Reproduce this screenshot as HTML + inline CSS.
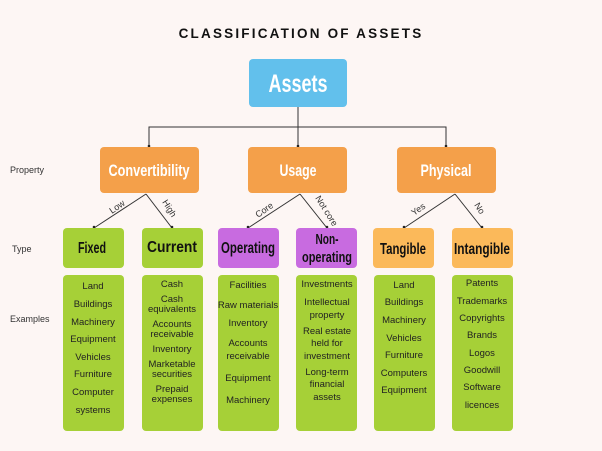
<!DOCTYPE html>
<html><head><meta charset="utf-8"><style>
html,body{margin:0;padding:0;background:#fdf6f4;}
svg{display:block;}
.c{font-family:"Liberation Sans",sans-serif;font-weight:bold;}
.e{font-family:"Liberation Sans",sans-serif;font-size:9.5px;fill:#222;text-anchor:middle;}
.l{font-family:"Liberation Sans",sans-serif;font-size:9px;fill:#333;}
</style></head><body>
<svg width="602" height="451" viewBox="0 0 602 451" xmlns="http://www.w3.org/2000/svg">
<rect width="602" height="451" fill="#fdf6f4"/>
<text x="301" y="38" text-anchor="middle" font-family="Liberation Sans,sans-serif" font-size="13.5" font-weight="bold" letter-spacing="2.2" fill="#111">CLASSIFICATION OF ASSETS</text>
<!-- connectors -->
<g stroke="#333" stroke-width="1" fill="none">
<line x1="298" y1="107" x2="298" y2="147"/>
<polyline points="149,147 149,127 446,127 446,147"/>
<line x1="146" y1="194" x2="94" y2="228"/><line x1="146" y1="194" x2="172" y2="228"/>
<line x1="300" y1="194" x2="248" y2="228"/><line x1="300" y1="194" x2="327" y2="228"/>
<line x1="455" y1="194" x2="404" y2="228"/><line x1="455" y1="194" x2="482" y2="228"/>
</g>
<g fill="#222"><circle cx="149" cy="146" r="1.3"/><circle cx="298" cy="146" r="1.3"/><circle cx="446" cy="146" r="1.3"/>
<circle cx="94" cy="227" r="1.3"/><circle cx="172" cy="227" r="1.3"/><circle cx="248" cy="227" r="1.3"/><circle cx="327" cy="227" r="1.3"/><circle cx="404" cy="227" r="1.3"/><circle cx="482" cy="227" r="1.3"/></g>
<!-- edge labels -->
<text class="l" transform="translate(112,214) rotate(-35)">Low</text>
<text class="l" transform="translate(162,202) rotate(58)">High</text>
<text class="l" transform="translate(258,218) rotate(-35)">Core</text>
<text class="l" transform="translate(315,198) rotate(58)">Not core</text>
<text class="l" transform="translate(414,216) rotate(-35)">Yes</text>
<text class="l" transform="translate(474,205) rotate(58)">No</text>
<!-- side labels -->
<text class="l" x="10" y="173" font-size="8.5">Property</text>
<text class="l" x="12" y="252" font-size="8.5">Type</text>
<text class="l" x="10" y="322" font-size="8.5">Examples</text>
<!-- Assets -->
<rect x="249" y="59" width="98" height="48" rx="4" fill="#62c0ec"/>
<text class="c" x="298" y="92" text-anchor="middle" font-size="25" fill="#fff" textLength="59" lengthAdjust="spacingAndGlyphs">Assets</text>
<!-- property -->
<rect x="100" y="147" width="99" height="46" rx="4" fill="#f4a04a"/>
<rect x="248" y="147" width="99" height="46" rx="4" fill="#f4a04a"/>
<rect x="397" y="147" width="99" height="46" rx="4" fill="#f4a04a"/>
<text class="c" x="149" y="176" text-anchor="middle" font-size="17" fill="#fff" textLength="81" lengthAdjust="spacingAndGlyphs">Convertibility</text>
<text class="c" x="298" y="176" text-anchor="middle" font-size="17" fill="#fff" textLength="37" lengthAdjust="spacingAndGlyphs">Usage</text>
<text class="c" x="446" y="176" text-anchor="middle" font-size="17" fill="#fff" textLength="51" lengthAdjust="spacingAndGlyphs">Physical</text>
<!-- type -->
<rect x="63" y="228" width="61" height="40" rx="4" fill="#a6d037"/>
<rect x="142" y="228" width="61" height="40" rx="4" fill="#a6d037"/>
<rect x="218" y="228" width="61" height="40" rx="4" fill="#c86be0"/>
<rect x="296" y="228" width="61" height="40" rx="4" fill="#c86be0"/>
<rect x="373" y="228" width="61" height="40" rx="4" fill="#fbb95a"/>
<rect x="452" y="228" width="61" height="40" rx="4" fill="#fbb95a"/>
<g fill="#111">
<text class="c" x="92" y="253" text-anchor="middle" font-size="16" textLength="28" lengthAdjust="spacingAndGlyphs">Fixed</text>
<text class="c" x="172" y="252" text-anchor="middle" font-size="16" textLength="50" lengthAdjust="spacingAndGlyphs">Current</text>
<text class="c" x="248" y="253" text-anchor="middle" font-size="16" textLength="54" lengthAdjust="spacingAndGlyphs">Operating</text>
<text class="c" x="327" y="244" text-anchor="middle" font-size="15" textLength="23" lengthAdjust="spacingAndGlyphs">Non-</text>
<text class="c" x="327" y="262" text-anchor="middle" font-size="15" textLength="50" lengthAdjust="spacingAndGlyphs">operating</text>
<text class="c" x="403" y="254" text-anchor="middle" font-size="16" textLength="46" lengthAdjust="spacingAndGlyphs">Tangible</text>
<text class="c" x="482" y="254" text-anchor="middle" font-size="16" textLength="56" lengthAdjust="spacingAndGlyphs">Intangible</text>
</g>
<!-- examples -->
<rect x="63" y="275" width="61" height="156" rx="4" fill="#a6d037"/>
<rect x="142" y="275" width="61" height="156" rx="4" fill="#a6d037"/>
<rect x="218" y="275" width="61" height="156" rx="4" fill="#a6d037"/>
<rect x="296" y="275" width="61" height="156" rx="4" fill="#a6d037"/>
<rect x="374" y="275" width="61" height="156" rx="4" fill="#a6d037"/>
<rect x="452" y="275" width="61" height="156" rx="4" fill="#a6d037"/>
<g class="e">
<text class="e" x="93" y="289">Land</text><text class="e" x="93" y="307">Buildings</text><text class="e" x="93" y="325">Machinery</text><text class="e" x="93" y="342">Equipment</text><text class="e" x="93" y="360">Vehicles</text><text class="e" x="93" y="377">Furniture</text><text class="e" x="93" y="395">Computer</text><text class="e" x="93" y="413">systems</text>

<text class="e" x="172" y="287">Cash</text><text class="e" x="172" y="302">Cash</text><text class="e" x="172" y="312">equivalents</text><text class="e" x="172" y="327">Accounts</text><text class="e" x="172" y="337">receivable</text><text class="e" x="172" y="352">Inventory</text><text class="e" x="172" y="367">Marketable</text><text class="e" x="172" y="377">securities</text><text class="e" x="172" y="392">Prepaid</text><text class="e" x="172" y="402">expenses</text>

<text class="e" x="248" y="288">Facilities</text><text class="e" x="248" y="308">Raw materials</text><text class="e" x="248" y="326">Inventory</text><text class="e" x="248" y="346">Accounts</text><text class="e" x="248" y="359">receivable</text><text class="e" x="248" y="381">Equipment</text><text class="e" x="248" y="403">Machinery</text>

<text class="e" x="327" y="287">Investments</text><text class="e" x="327" y="305">Intellectual</text><text class="e" x="327" y="318">property</text><text class="e" x="327" y="334">Real estate</text><text class="e" x="327" y="346">held for</text><text class="e" x="327" y="359">investment</text><text class="e" x="327" y="375">Long-term</text><text class="e" x="327" y="387">financial</text><text class="e" x="327" y="400">assets</text>

<text class="e" x="404" y="288">Land</text><text class="e" x="404" y="305">Buildings</text><text class="e" x="404" y="323">Machinery</text><text class="e" x="404" y="341">Vehicles</text><text class="e" x="404" y="358">Furniture</text><text class="e" x="404" y="376">Computers</text><text class="e" x="404" y="393">Equipment</text>

<text class="e" x="482" y="286">Patents</text><text class="e" x="482" y="304">Trademarks</text><text class="e" x="482" y="321">Copyrights</text><text class="e" x="482" y="338">Brands</text><text class="e" x="482" y="356">Logos</text><text class="e" x="482" y="373">Goodwill</text><text class="e" x="482" y="390">Software</text><text class="e" x="482" y="408">licences</text>
</g>
</svg>
</body></html>
